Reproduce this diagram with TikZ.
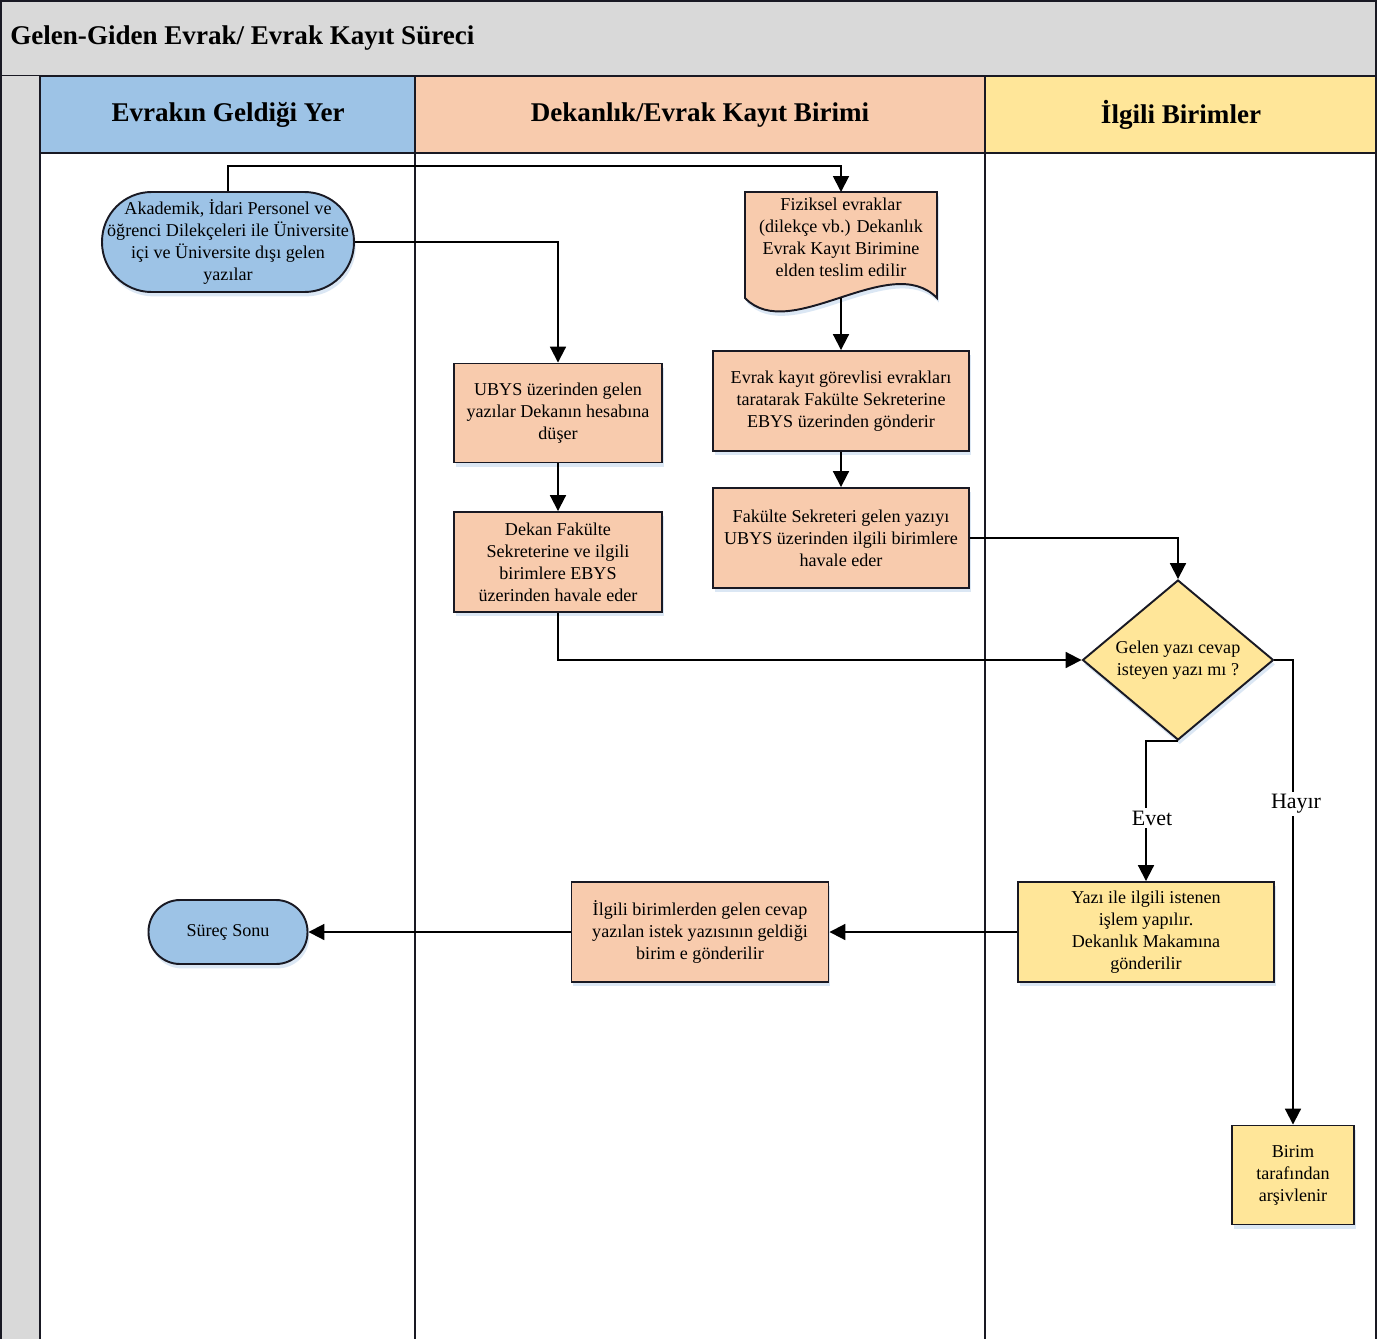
\documentclass[tikz,border=0pt]{standalone}
\usepackage{fontspec}
\setmainfont{Liberation Serif}
\usetikzlibrary{arrows.meta,shapes.geometric,shadows}

\definecolor{laneblue}{RGB}{157,195,230}
\definecolor{lanesalmon}{RGB}{248,203,173}
\definecolor{laneyellow}{RGB}{255,230,153}
\definecolor{titlegray}{RGB}{217,217,217}
\definecolor{edgedark}{RGB}{25,25,35}
\definecolor{shadowblue}{RGB}{205,222,240}

\tikzset{
  softshadow/.style={drop shadow={shadow xshift=1pt, shadow yshift=-2.5pt, fill=shadowblue, opacity=0.7}},
  boxtext/.style={font=\fontsize{10.3}{12.5}\selectfont, align=center},
  procbox/.style={boxtext, draw=edgedark, line width=1.1pt, rectangle, inner sep=2pt, softshadow},
  termbox/.style={procbox, fill=laneblue},
  conn/.style={line width=1.1pt, draw=black, -{Triangle[length=9pt,width=9pt]}},
  lane/.style={line width=1.1pt, draw=edgedark},
  headtext/.style={font=\bfseries\fontsize{15.4}{18}\selectfont, inner sep=0pt},
  branchlabel/.style={font=\fontsize{12.5}{14}\selectfont, fill=white, inner sep=1.5pt}
}

\begin{document}
\begin{tikzpicture}[x=0.02cm, y=-0.02cm]
\useasboundingbox (0,0) rectangle (1387,1339);

% title bar and side strip
\fill[white] (0,0) rectangle (1387,1339);
\draw[lane, fill=titlegray] (1,1) rectangle (1376,76);
\fill[titlegray] (1,76) rectangle (40,1339);
\draw[lane] (1,76) -- (1,1339);

% lane headers
\draw[lane, fill=laneblue] (40,76) rectangle (415,153);
\draw[lane, fill=lanesalmon] (415,76) rectangle (985,153);
\draw[lane, fill=laneyellow] (985,76) rectangle (1376,153);

% lane separators
\draw[lane] (40,153) -- (40,1339);
\draw[lane] (415,153) -- (415,1339);
\draw[lane] (985,153) -- (985,1339);
\draw[lane] (1376,153) -- (1376,1339);

\node[headtext, anchor=west] (title) at (10,38) {Gelen-Giden Evrak/ Evrak Kayıt Süreci};
\node[headtext] (h1) at (228,115) {Evrakın Geldiği Yer};
\node[headtext] (h2) at (700,115) {Dekanlık/Evrak Kayıt Birimi};
\node[headtext] (h3) at (1181,115) {İlgili Birimler};

% document shape
\draw[line width=1.1pt, draw=edgedark, fill=lanesalmon, softshadow]
  (745,192) -- (937,192) -- (937,298)
  .. controls (890,250) and (790,345) .. (745,298) -- cycle;
\node[boxtext, minimum width=3.84cm, minimum height=1.8cm, inner sep=0pt] (doc) at (841,237)
  {Fiziksel evraklar\\(dilekçe vb.) Dekanlık\\Evrak Kayıt Birimine\\elden teslim edilir};
\coordinate (doctop) at (841,192);
\coordinate (docbot) at (841,298);

% process nodes
\node[termbox, minimum width=5.04cm, minimum height=2.0cm, rounded corners=0.99cm] (start) at (228,242)
  {Akademik, İdari Personel ve\\öğrenci Dilekçeleri ile Üniversite\\içi ve Üniversite dışı gelen\\yazılar};
\node[procbox, fill=lanesalmon, minimum width=4.16cm, minimum height=1.98cm] (ubys) at (558,413)
  {UBYS üzerinden gelen\\yazılar Dekanın hesabına\\düşer};
\node[procbox, fill=lanesalmon, minimum width=5.12cm, minimum height=2.0cm] (evrak) at (841,401)
  {Evrak kayıt görevlisi evrakları\\taratarak Fakülte Sekreterine\\EBYS üzerinden gönderir};
\node[procbox, fill=lanesalmon, minimum width=5.12cm, minimum height=2.0cm] (fak) at (841,538)
  {Fakülte Sekreteri gelen yazıyı\\UBYS üzerinden ilgili birimlere\\havale eder};
\node[procbox, fill=lanesalmon, minimum width=4.16cm, minimum height=2.0cm] (dekan) at (558,562)
  {Dekan Fakülte\\Sekreterine ve ilgili\\birimlere EBYS\\üzerinden havale eder};
\node[diamond, draw=edgedark, line width=1.1pt, fill=laneyellow, softshadow,
      minimum width=3.82cm, minimum height=3.2cm, inner sep=0pt] (dec) at (1178,660) {};
\node[boxtext] (dectext) at (1178,660) {Gelen yazı cevap\\isteyen yazı mı ?};
\node[procbox, fill=laneyellow, minimum width=5.12cm, minimum height=2.0cm] (yazi) at (1146,932)
  {Yazı ile ilgili istenen\\işlem yapılır.\\Dekanlık Makamına\\gönderilir};
\node[procbox, fill=lanesalmon, minimum width=5.14cm, minimum height=2.0cm] (ilgili) at (700,932)
  {İlgili birimlerden gelen cevap\\yazılan istek yazısının geldiği\\birim e gönderilir};
\node[termbox, minimum width=3.18cm, minimum height=1.28cm, rounded corners=0.63cm] (sonu) at (228,932)
  {Süreç Sonu};
\node[procbox, fill=laneyellow, minimum width=2.44cm, minimum height=1.98cm] (birim) at (1293,1175)
  {Birim\\tarafından\\arşivlenir};

% connectors
\draw[conn] (start.north) -- ++(0,-25) -| (doctop);
\draw[conn] (start.east) -| (ubys.north);
\draw[conn] (docbot) -- (evrak.north);
\draw[conn] (evrak.south) -- (fak.north);
\draw[conn] (ubys.south) -- (dekan.north);
\draw[conn] (fak.east) -| (dec.north);
\draw[conn] (dekan.south) |- (dec.west);
\draw[conn] (dec.south) -| (yazi.north);
\draw[conn] (dec.east) -| (birim.north);
\draw[conn] (yazi.west) -- (ilgili.east);
\draw[conn] (ilgili.west) -- (sonu.east);

% branch labels
\node[branchlabel] (evet) at (1152,818) {Evet};
\node[branchlabel] (hayir) at (1296,804) {Hayır};
\end{tikzpicture}
\end{document}
